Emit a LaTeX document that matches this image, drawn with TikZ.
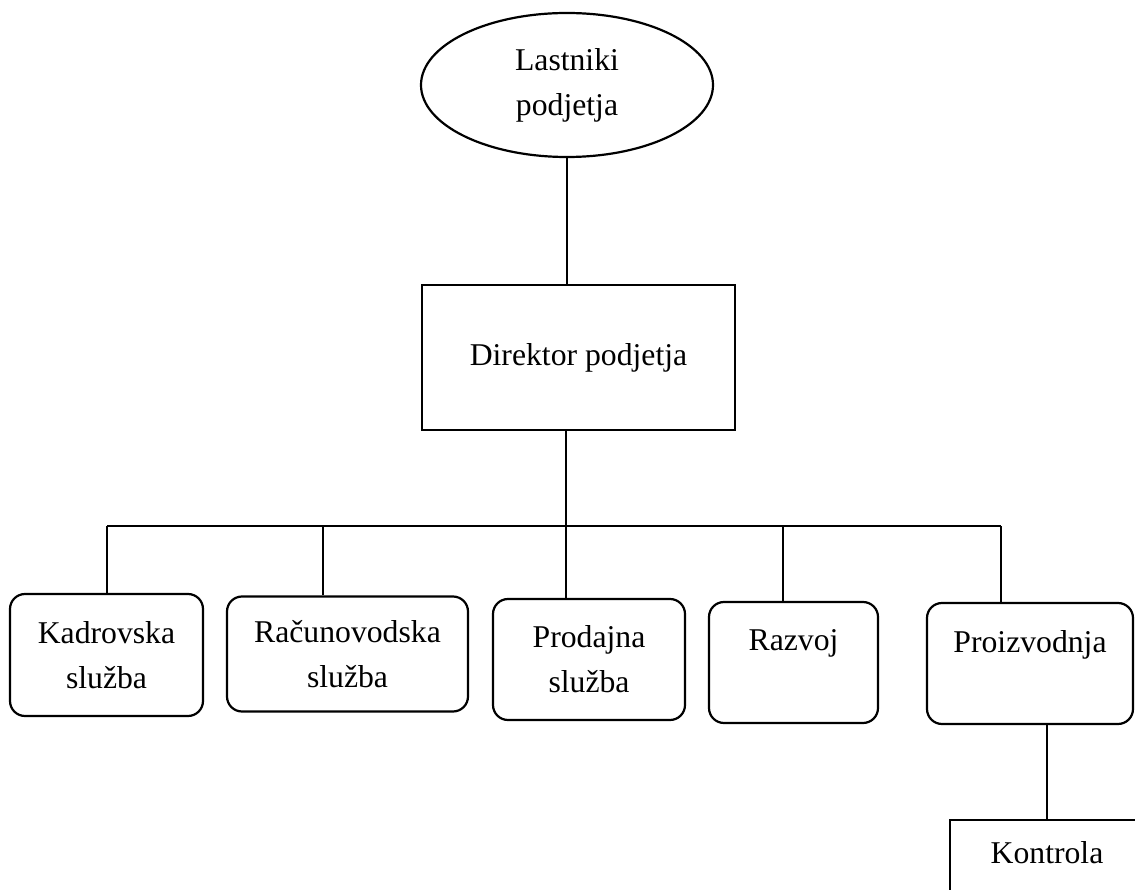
\documentclass[tikz,border=0pt]{standalone}
\usepackage{fontspec}
\setmainfont{Liberation Serif}
\usetikzlibrary{shapes.geometric}

\begin{document}
\begin{tikzpicture}[x=1pt, y=-1pt, line width=1.3pt,
		unit/.style={draw, line width=2.2pt, align=center, inner sep=0pt,
			font=\fontsize{31.7}{45}\selectfont},
		owner/.style={unit, ellipse, minimum width=292pt, minimum height=144pt},
		chief/.style={unit, rectangle, minimum width=313pt, minimum height=145pt},
		dept/.style={unit, rectangle, rounded corners=15pt, minimum height=121pt}]

		\useasboundingbox (0,0) rectangle (1135,890);

		\node[owner] (own) at (567,85) {Lastniki\\podjetja};
		\node[chief] (dir) at (578.5,357.5) {Direktor podjetja};

		\node[dept, minimum width=193pt, minimum height=122pt] (kad) at (106.5,655) {Kadrovska\\služba};
		\node[dept, minimum width=241pt, minimum height=115pt] (rac) at (347.5,654) {Računovodska\\služba};
		\node[dept, minimum width=192pt] (pro) at (589,659.5) {Prodajna\\služba};
		\node[dept, minimum width=169pt] (raz) at (793.5,662.5) {Razvoj\\~};
		\node[dept, minimum width=206pt] (prz) at (1030,663.5) {Proizvodnja\\~};

		\node[chief, minimum width=194pt, minimum height=110pt] (kon) at (1047,875) {Kontrola\\~};

		\foreach \n/\x in {1/107, 2/323, 3/566, 4/783, 5/1001}
			\coordinate (b\n) at (\x,526);

		\draw (own.south) -- (own.south |- dir.north);
		\draw (dir.south -| b3) -- (b3);
		\draw (b1) -- (b5);
		\foreach \b/\d in {b1/kad, b2/rac, b3/pro, b4/raz, b5/prz}
			\draw (\b) -- (\b |- \d.north);
		\draw (prz.south -| kon) -- (kon.north);

	\end{tikzpicture}
\end{document}
